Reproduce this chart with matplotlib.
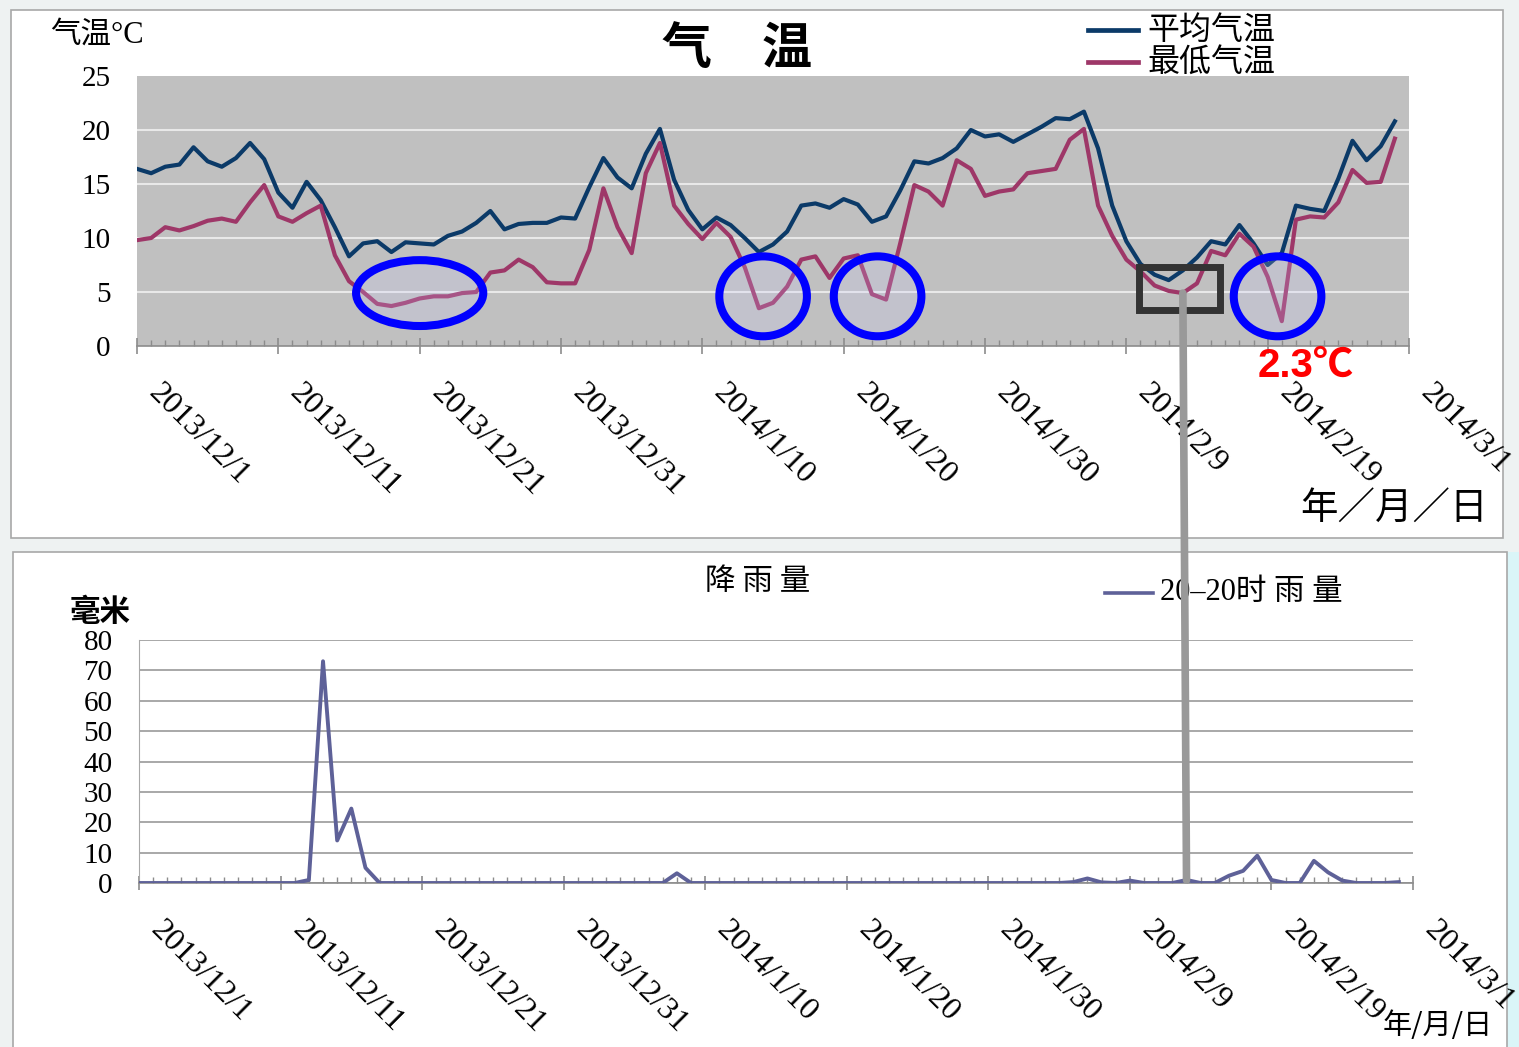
import numpy as np
import matplotlib.pyplot as plt
import matplotlib.transforms as mtransforms
from matplotlib.patches import Ellipse, Rectangle, ConnectionPatch
from matplotlib.lines import Line2D

W, H = 1519, 1047

# daily values from 2013/12/1 to 2014/2/28
avg_temp = [16.4, 16.0, 16.6, 16.8, 18.4, 17.1, 16.6, 17.4, 18.8, 17.3,
            14.2, 12.8, 15.2, 13.5, 11.0, 8.3, 9.5, 9.7, 8.7, 9.6,
            9.5, 9.4, 10.2, 10.6, 11.4, 12.5, 10.8, 11.3, 11.4, 11.4,
            11.9, 11.8, 14.7, 17.4, 15.6, 14.6, 17.8, 20.1, 15.4, 12.6,
            10.8, 11.9, 11.2, 10.0, 8.7, 9.4, 10.6, 13.0, 13.2, 12.8,
            13.6, 13.1, 11.5, 12.0, 14.4, 17.1, 16.9, 17.4, 18.3, 20.0,
            19.4, 19.6, 18.9, 19.6, 20.3, 21.1, 21.0, 21.7, 18.3, 13.0,
            9.7, 7.6, 6.6, 6.1, 7.0, 8.2, 9.7, 9.4, 11.2, 9.5,
            7.5, 8.6, 13.0, 12.7, 12.5, 15.5, 19.0, 17.2, 18.5, 20.8]

min_temp = [9.8, 10.0, 11.0, 10.7, 11.1, 11.6, 11.8, 11.5, 13.3, 14.9,
            12.0, 11.5, 12.3, 13.0, 8.4, 6.0, 5.0, 3.9, 3.7, 4.0,
            4.4, 4.6, 4.6, 4.9, 5.0, 6.8, 7.0, 8.0, 7.3, 5.9,
            5.8, 5.8, 8.9, 14.6, 11.0, 8.6, 16.0, 18.8, 13.0, 11.3,
            9.9, 11.4, 10.1, 7.3, 3.5, 4.0, 5.5, 8.0, 8.3, 6.3,
            8.1, 8.4, 4.8, 4.3, 9.5, 14.9, 14.3, 13.0, 17.2, 16.4,
            13.9, 14.3, 14.5, 16.0, 16.2, 16.4, 19.1, 20.1, 13.0, 10.2,
            8.0, 6.9, 5.6, 5.1, 4.9, 5.8, 8.8, 8.4, 10.4, 9.2,
            6.4, 2.3, 11.7, 12.0, 11.9, 13.3, 16.3, 15.1, 15.2, 19.2]

rain = [0, 0, 0, 0, 0, 0, 0, 0, 0, 0,
        0, 0, 1.0, 73.0, 14.0, 24.5, 5.0, 0, 0, 0,
        0, 0, 0, 0, 0, 0, 0, 0, 0, 0,
        0, 0, 0, 0, 0, 0, 0, 0, 3.2, 0,
        0, 0, 0, 0, 0, 0, 0, 0, 0, 0,
        0, 0, 0, 0, 0, 0, 0, 0, 0, 0,
        0, 0, 0, 0, 0, 0, 0.3, 1.5, 0.2, 0,
        0.8, 0, 0, 0, 1.0, 0, 0, 2.4, 4.0, 9.0,
        1.0, 0, 0, 7.3, 3.5, 0.8, 0, 0, 0, 0.3]

date_labels = ['2013/12/1', '2013/12/11', '2013/12/21', '2013/12/31',
               '2014/1/10', '2014/1/20', '2014/1/30', '2014/2/9',
               '2014/2/19', '2014/3/1']

NAVY = '#0B3A68'
CRIMSON = '#9E3768'
RAIN = '#5E6198'
CJK = 'Noto Sans CJK SC'
SERIF = 'Liberation Serif'


def fx(x):
    return x / W


def fy(y):
    return 1 - y / H


def frame(fig, x0, y0, x1, y1):
    fig.add_artist(Rectangle((fx(x0), fy(y1)), fx(x1) - fx(x0), fy(y0) - fy(y1),
                             transform=fig.transFigure, facecolor='white',
                             edgecolor='#A8A8A8', lw=1.2, zorder=-5))


def date_axis(fig, ax, tick_len):
    days = np.arange(len(avg_temp) + 1)
    ax.set_xlim(0, days[-1])
    ax.set_xticks(days[::10])
    ax.set_xticks(days, minor=True)
    ax.tick_params(axis='x', which='major', direction='inout', length=tick_len,
                   width=1.2, color='#8C8C8C', labelbottom=False)
    ax.tick_params(axis='x', which='minor', direction='in', length=4.5,
                   width=1.0, color='#8C8C8C')
    off = mtransforms.ScaledTranslation(0.16, -0.43, fig.dpi_scale_trans)
    for d, lab in zip(days[::10], date_labels):
        ax.text(d, 0, lab, transform=ax.get_xaxis_transform() + off,
                rotation=-45, rotation_mode='anchor', ha='left', va='center',
                fontsize=23, family=SERIF)


def plot_temperature(fig):
    ax = fig.add_axes([fx(137), fy(346), fx(1409) - fx(137), fy(76) - fy(346)])
    ax.set_facecolor('#C0C0C0')
    days = np.arange(len(avg_temp))
    ax.plot(days, avg_temp, color=NAVY, lw=3.0, solid_joinstyle='round', zorder=3)
    ax.plot(days, min_temp, color=CRIMSON, lw=3.0, solid_joinstyle='round', zorder=3)
    ax.set_ylim(0, 25)
    ax.set_yticks(np.arange(0, 26, 5))
    ax.tick_params(axis='y', length=0, pad=19, labelsize=21)
    for lab in ax.get_yticklabels():
        lab.set_family(SERIF)
    ax.yaxis.grid(True, color='#E8E8E8', lw=1.5)
    grid = ax.get_ygridlines()
    grid[0].set_visible(False)
    grid[-1].set_visible(False)
    for s in ['top', 'right', 'left']:
        ax.spines[s].set_visible(False)
    ax.spines['bottom'].set_color('#8C8C8C')
    ax.spines['bottom'].set_linewidth(1.2)
    date_axis(fig, ax, 11)

    # cold spells marked on the minimum curve
    ax.add_patch(Ellipse((20.0, 4.9), 9.0, 6.1, facecolor=(0.8, 0.8, 1.0, 0.2),
                         edgecolor='#0000FF', lw=5.8, zorder=5, clip_on=False))
    for cx in [44.3, 52.4, 80.7]:
        ax.add_patch(Ellipse((cx, 4.6), 6.2, 7.4, facecolor=(0.8, 0.8, 1.0, 0.2),
                             edgecolor='#0000FF', lw=5.8, zorder=5, clip_on=False))
    ax.add_patch(Rectangle((70.9, 3.3), 5.7, 4.06, facecolor='none',
                           edgecolor='#333333', lw=5.0, zorder=5, clip_on=False))

    low = int(np.argmin(min_temp))
    ax.annotate(f'{min_temp[low]}℃', xy=(low, min_temp[low]), xytext=(24, -45),
                textcoords='offset pixels', ha='center', va='center',
                fontsize=29, weight='bold', color='#FF0000',
                family=['Liberation Sans', CJK], annotation_clip=False)

    fig.text(fx(737), fy(50), '气\u3000温', fontsize=36, weight='bold',
             family=CJK, ha='center', va='center')
    fig.text(fx(50), fy(35), '气温°C', fontsize=22, family=[SERIF, CJK],
             ha='left', va='center')
    fig.text(fx(1300), fy(508), '年／月／日', fontsize=27, family=CJK,
             ha='left', va='center')

    # legend
    for y, col, name in [(30, NAVY, '平均气温'), (62, CRIMSON, '最低气温')]:
        fig.add_artist(Line2D([fx(1088), fx(1138)], [fy(y), fy(y)], color=col,
                              lw=3.4, transform=fig.transFigure))
        fig.text(fx(1147), fy(y), name, fontsize=23, family=CJK,
                 ha='left', va='center')
    return ax


def plot_rain(fig):
    ax = fig.add_axes([fx(139), fy(883), fx(1413) - fx(139), fy(640) - fy(883)])
    days = np.arange(len(rain))
    ax.plot(days, rain, color=RAIN, lw=2.8, solid_joinstyle='round', zorder=3)
    ax.set_ylim(0, 80)
    ax.set_yticks(np.arange(0, 81, 10))
    ax.tick_params(axis='y', length=0, pad=19, labelsize=21)
    for lab in ax.get_yticklabels():
        lab.set_family(SERIF)
    ax.yaxis.grid(True, color='#A8A8A8', lw=1.4)
    for s in ['top', 'right']:
        ax.spines[s].set_visible(False)
    ax.spines['left'].set_color('#A8A8A8')
    ax.spines['bottom'].set_color('#8C8C8C')
    ax.spines['bottom'].set_linewidth(1.2)
    date_axis(fig, ax, 10)

    fig.text(fx(758), fy(582), '降 雨 量', fontsize=22, family=CJK,
             ha='center', va='center')
    fig.text(fx(70), fy(612), '毫米', fontsize=22, family=CJK, weight='bold',
             ha='left', va='center')
    fig.text(fx(1383), fy(1026), '年/月/日', fontsize=21, family=CJK,
             ha='left', va='center')
    fig.add_artist(Line2D([fx(1105), fx(1153)], [fy(593), fy(593)], color=RAIN,
                          lw=2.6, transform=fig.transFigure))
    fig.text(fx(1160), fy(593), '20–20时 雨 量', fontsize=22, family=[SERIF, CJK],
             ha='left', va='center')
    return ax


def main():
    fig = plt.figure(figsize=(W / 100, H / 100), dpi=100, facecolor='#EEF2F2')
    fig.add_artist(Rectangle((fx(1507), 0), 1 - fx(1507), fy(552), facecolor='#DAF5F8',
                             edgecolor='none', transform=fig.transFigure, zorder=-6))
    frame(fig, 11, 10, 1503, 538)
    frame(fig, 13, 552, 1507, 1060)

    ax1 = plot_temperature(fig)
    ax2 = plot_rain(fig)

    # tie the boxed day in the temperature chart to the rainfall chart
    d = 74
    con = ConnectionPatch(xyA=(d, min_temp[d]), coordsA=ax1.transData,
                          xyB=(d, rain[d]), coordsB=ax2.transData,
                          color='#999999', lw=5.5, zorder=20)
    fig.add_artist(con)

    fig.savefig('out.png', dpi=100, facecolor=fig.get_facecolor())


if __name__ == "__main__":
    main()
